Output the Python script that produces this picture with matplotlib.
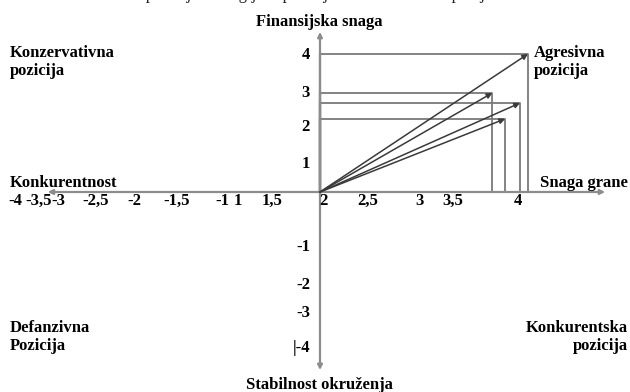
import matplotlib
matplotlib.use("Agg")
import matplotlib.pyplot as plt

# data: vector end points (x on the "Snaga grane" scale, y on "Finansijska snaga")
vec_x = [4.1, 3.74, 4.02, 3.87]
vec_y = [4.0, 2.87, 2.58, 2.12]
origin = (2.0, 0.0)

x_labels = ["-4", "-3,5", "-3", "-2,5", "-2", "-1,5", "-1", "1", "1,5",
            "2", "2,5", "3", "3,5", "4"]
y_labels = ["4", "3", "2", "1", "-1", "-2", "-3", "|-4"]

# layout: hand-placed label positions (data units)
x_label_pos = [-1.08, -0.84, -0.64, -0.27, 0.13, 0.55, 1.01, 1.17, 1.52,
               2.03, 2.48, 3.0, 3.34, 4.0]
y_label_pos = [3.97, 2.87, 1.88, 0.81, -1.59, -2.70, -3.51, -4.52]

plt.rcParams["font.family"] = ["Liberation Serif", "DejaVu Serif"]
plt.rcParams["font.weight"] = "bold"

fig = plt.figure(figsize=(6.3, 3.92), dpi=100)
ax = fig.add_axes([0, 0, 1, 1])
ax.set_xlim(-1.2323, 5.1313)
ax.set_ylim(-5.797, 5.565)
ax.axis("off")

AX_C = "#8c8c8c"
REC_C = "#7a7a7a"
VEC_C = "#3a3a3a"

# axes with arrows
for end in [(4.88, 0), (-0.75, 0), (2, 4.64), (2, -5.16)]:
    ax.annotate("", xy=end, xytext=origin,
                arrowprops=dict(arrowstyle="-|>", color=AX_C, lw=1.6,
                                mutation_scale=7, shrinkA=0, shrinkB=0))

# rectangles and vectors
for xv, yv in zip(vec_x, vec_y):
    ax.plot([origin[0], xv, xv], [yv, yv, origin[1]], color=REC_C, lw=1.3)
    ax.plot([origin[0], origin[0]], [origin[1], yv], color=REC_C, lw=1.6)
    ax.annotate("", xy=(xv, yv), xytext=origin,
                arrowprops=dict(arrowstyle="-|>", color=VEC_C, lw=1.1,
                                mutation_scale=8, shrinkA=0, shrinkB=0))

# tick labels
for lab, xp in zip(x_labels, x_label_pos):
    ax.text(xp, -0.26, lab, ha="center", va="center", fontsize=12)
for lab, yp in zip(y_labels, y_label_pos):
    ax.text(1.9, yp, lab, ha="right", va="center", fontsize=12)

# axis titles and quadrant labels
ax.text(1.99, 4.93, "Finansijska snaga", ha="center", va="center", fontsize=12)
ax.text(1.99, -5.59, "Stabilnost okruženja", ha="center", va="center", fontsize=12)
ax.text(-1.13, 0.26, "Konkurentnost", ha="left", va="center", fontsize=12)
ax.text(4.22, 0.26, "Snaga grane", ha="left", va="center", fontsize=12)
ax.text(-1.13, 4.25, "Konzervativna\npozicija", ha="left", va="top",
        fontsize=12, linespacing=1.1)
ax.text(4.16, 4.25, "Agresivna\npozicija", ha="left", va="top",
        fontsize=12, linespacing=1.1)
ax.text(-1.13, -3.72, "Defanzivna\nPozicija", ha="left", va="top",
        fontsize=12, linespacing=1.1)
ax.text(5.11, -3.72, "Konkurentska\npozicija", ha="right", va="top",
        fontsize=12, linespacing=1.1, multialignment="right")

# caption, cut off at the top edge as in the source image
fig.text(0.055, 1.0 + 5 / 392,
         "Slika 2. Matrica pozicija strategijske pozicije analiziranih kompanija",
         ha="left", va="center", fontsize=12, fontweight="normal", color="#222222")

fig.savefig("out.png", dpi=100)
